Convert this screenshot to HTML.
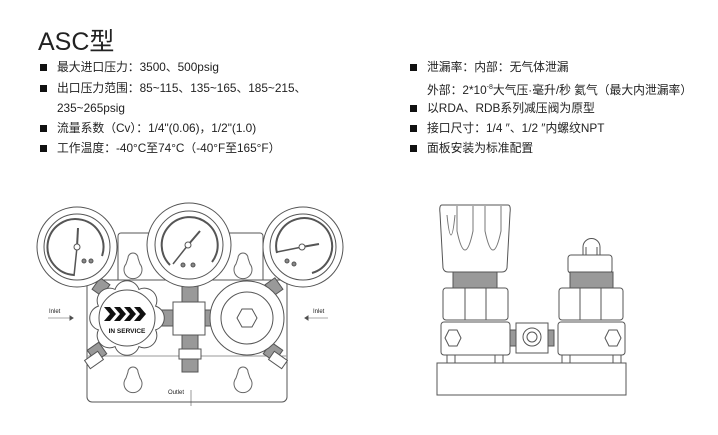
<!DOCTYPE html>
<html><head><meta charset="utf-8"><style>
body{margin:0;background:#fff;width:718px;height:435px;overflow:hidden;position:relative;font-family:"Liberation Sans","Noto Sans CJK SC",sans-serif;color:#222}
.t{position:absolute;left:38px;top:22px;font-size:25px;color:#222}
.l{position:absolute;font-size:11.8px;line-height:20px;white-space:nowrap}
.l i{display:inline-block;width:7px;height:7px;background:#111;margin-right:10px;vertical-align:0px}
</style></head><body>
<div class="t">ASC型</div>
<div class="l" style="left:40px;top:57px"><i></i>最大进口压力：3500、500psig</div>
<div class="l" style="left:40px;top:78px"><i></i>出口压力范围：85~115、135~165、185~215、</div>
<div class="l" style="left:57px;top:98px">235~265psig</div>
<div class="l" style="left:40px;top:118px"><i></i>流量系数（Cv）：1/4"(0.06)，1/2"(1.0)</div>
<div class="l" style="left:40px;top:138px"><i></i>工作温度：-40°C至74°C（-40°F至165°F）</div>
<div class="l" style="left:410px;top:57px"><i></i>泄漏率：内部：无气体泄漏</div>
<div class="l" style="left:427px;top:78px">外部：2*10<sup style="font-size:7px">-8</sup>大气压·毫升/秒 氦气（最大内泄漏率）</div>
<div class="l" style="left:410px;top:98px"><i></i>以RDA、RDB系列减压阀为原型</div>
<div class="l" style="left:410px;top:118px"><i></i>接口尺寸：1/4 ″、1/2 ″内螺纹NPT</div>
<div class="l" style="left:410px;top:138px"><i></i>面板安装为标准配置</div>
<svg width="718" height="435" style="position:absolute;left:0;top:0" fill="#fff" stroke="#555" stroke-width="1">
<!-- plates -->
<rect x="118" y="233" width="145" height="50" rx="3"/>
<rect x="87" y="280" width="200" height="122" rx="5"/>
<line x1="87" y1="356" x2="287" y2="356" stroke="#999"/>
<g stroke="#666">
<path d="M128 258 a5 5 0 1 1 10 0 l2 6 a9 9 0 1 1 -14 0z"/>
<path d="M238 258 a5 5 0 1 1 10 0 l2 6 a9 9 0 1 1 -14 0z"/>
<path d="M128 372 a5 5 0 1 1 10 0 l2 6 a9 9 0 1 1 -14 0z"/>
<path d="M238 372 a5 5 0 1 1 10 0 l2 6 a9 9 0 1 1 -14 0z"/>
</g>
<!-- stems -->
<rect x="95" y="280" width="12" height="14" fill="#999" transform="rotate(35 101 287)"/>
<rect x="268" y="280" width="12" height="14" fill="#999" transform="rotate(-35 274 287)"/>
<rect x="182" y="285" width="16" height="18" fill="#999"/>
<rect x="182" y="335" width="16" height="14" fill="#999"/>
<rect x="179" y="349" width="22" height="10"/>
<rect x="182" y="359" width="16" height="13" fill="#999"/>
<rect x="162" y="310" width="11" height="16" fill="#999"/>
<rect x="205" y="310" width="10" height="16" fill="#999"/>
<rect x="90" y="345" width="14" height="14" fill="#999" transform="rotate(-35 97 352)"/>
<rect x="86" y="355" width="16" height="10" transform="rotate(-35 94 360)"/>
<rect x="266" y="345" width="14" height="14" fill="#999" transform="rotate(35 273 352)"/>
<rect x="270" y="355" width="16" height="10" transform="rotate(35 278 360)"/>
<!-- gauges -->
<g>
<circle cx="77" cy="247" r="40"/><circle cx="77" cy="247" r="33"/>
<path d="M74 275 A28 28 0 1 1 102 256" fill="none" stroke-width="2"/>
<line x1="77" y1="247" x2="74" y2="276" stroke-width="1.5"/><line x1="77" y1="247" x2="78" y2="228" stroke-width="2"/>
<circle cx="77" cy="247" r="3"/><circle cx="84" cy="261" r="2" fill="#888"/><circle cx="91" cy="261" r="2" fill="#888"/>
</g>
<g>
<circle cx="189" cy="245" r="42"/><circle cx="189" cy="245" r="34"/>
<path d="M170 265 A28 28 0 1 1 212 262" fill="none" stroke-width="2"/>
<line x1="188" y1="245" x2="173" y2="264" stroke-width="1.5"/><line x1="188" y1="245" x2="200" y2="231" stroke-width="2"/>
<circle cx="188" cy="245" r="3"/><circle cx="183" cy="265" r="2" fill="#888"/><circle cx="193" cy="265" r="2" fill="#888"/>
</g>
<g>
<circle cx="303" cy="247" r="40"/><circle cx="303" cy="247" r="33"/>
<path d="M277 253 A28 28 0 1 1 312 273" fill="none" stroke-width="2"/>
<line x1="302" y1="247" x2="277" y2="252" stroke-width="1.5"/><line x1="302" y1="247" x2="319" y2="244" stroke-width="2"/>
<circle cx="302" cy="247" r="3"/><circle cx="287" cy="261" r="2" fill="#888"/><circle cx="294" cy="264" r="2" fill="#888"/>
</g>
<!-- knob -->
<g>
<path d="M155.6 306.1 A12.5 12.5 0 0 1 155.6 329.9 A12.5 12.5 0 0 1 138.9 346.6 A12.5 12.5 0 0 1 115.1 346.6 A12.5 12.5 0 0 1 98.4 329.9 A12.5 12.5 0 0 1 98.4 306.1 A12.5 12.5 0 0 1 115.1 289.4 A12.5 12.5 0 0 1 138.9 289.4 A12.5 12.5 0 0 1 155.6 306.1Z"/>
<circle cx="127" cy="318" r="28"/>
<g fill="#111" stroke="none">
<path d="M104 307 l6 0 l6 7 l-6 7 l-6 0 l6 -7z"/><path d="M114 307 l6 0 l6 7 l-6 7 l-6 0 l6 -7z"/><path d="M124 307 l6 0 l6 7 l-6 7 l-6 0 l6 -7z"/><path d="M134 307 l6 0 l6 7 l-6 7 l-6 0 l6 -7z"/>
</g>
<text x="127" y="333" font-size="6.5" font-weight="bold" text-anchor="middle" fill="#111" stroke="none" font-family="Liberation Sans">IN SERVICE</text>
</g>
<rect x="173" y="302" width="32" height="33"/>
<circle cx="247" cy="318" r="37"/><circle cx="247" cy="318" r="26"/>
<polygon points="237,318 242,309 252,309 257,318 252,327 242,327"/>
<!-- labels -->
<g fill="#222" stroke="none" font-size="6" font-family="Liberation Sans">
<text x="49" y="313">Inlet</text><text x="313" y="313">Inlet</text><text x="168" y="394">Outlet</text></g>
<line x1="48" y1="318" x2="70" y2="318" stroke-width=".6"/><path d="M70 316 l3 2 -3 2z" fill="#444"/>
<line x1="308" y1="318" x2="328" y2="318" stroke-width=".6"/><path d="M308 316 l-3 2 3 2z" fill="#444"/>
<line x1="191" y1="390" x2="191" y2="406" stroke-width=".6"/>
<!-- right diagram -->
<rect x="437" y="363" width="189" height="32"/>
<rect x="447" y="355" width="8" height="8"/><rect x="495" y="355" width="8" height="8"/><rect x="562" y="355" width="8" height="8"/><rect x="613" y="355" width="8" height="8"/>
<path d="M442 205 h66 q3 0 2 8 l-3 55 q-1 4 -5 4 h-54 q-4 0 -5 -4 l-3 -55 q-1 -8 2 -8z"/>
<path d="M457 206 v25 q8 38 16 0 v-25 M485 206 v25 q8 38 16 0 v-25 M447 215 q4 40 8 0" fill="none" stroke="#777"/>
<rect x="453" y="272" width="44" height="16" fill="#999"/>
<rect x="443" y="288" width="65" height="32" rx="3"/><line x1="465" y1="288" x2="465" y2="320"/><line x1="486" y1="288" x2="486" y2="320"/>
<rect x="441" y="322" width="69" height="33" rx="3"/>
<polygon points="445,338 449,330 457,330 461,338 457,346 449,346"/>
<rect x="510" y="330" width="6" height="16" fill="#999"/><rect x="548" y="330" width="6" height="16" fill="#999"/>
<rect x="516" y="323" width="32" height="30"/>
<circle cx="532" cy="337" r="9"/><circle cx="532" cy="337" r="5"/>
<path d="M583 255 v-8 a8 8 0 0 1 17 0 v8z"/><line x1="586" y1="247" x2="586" y2="255"/><line x1="597" y1="247" x2="597" y2="255"/>
<rect x="568" y="255" width="44" height="18" rx="3"/>
<rect x="570" y="272" width="43" height="16" fill="#999"/>
<rect x="559" y="288" width="64" height="32" rx="3"/><line x1="580" y1="288" x2="580" y2="320"/><line x1="601" y1="288" x2="601" y2="320"/>
<rect x="558" y="322" width="67" height="33" rx="3"/>
<polygon points="605,338 609,330 617,330 621,338 617,346 609,346"/>
</svg>
</body></html>
